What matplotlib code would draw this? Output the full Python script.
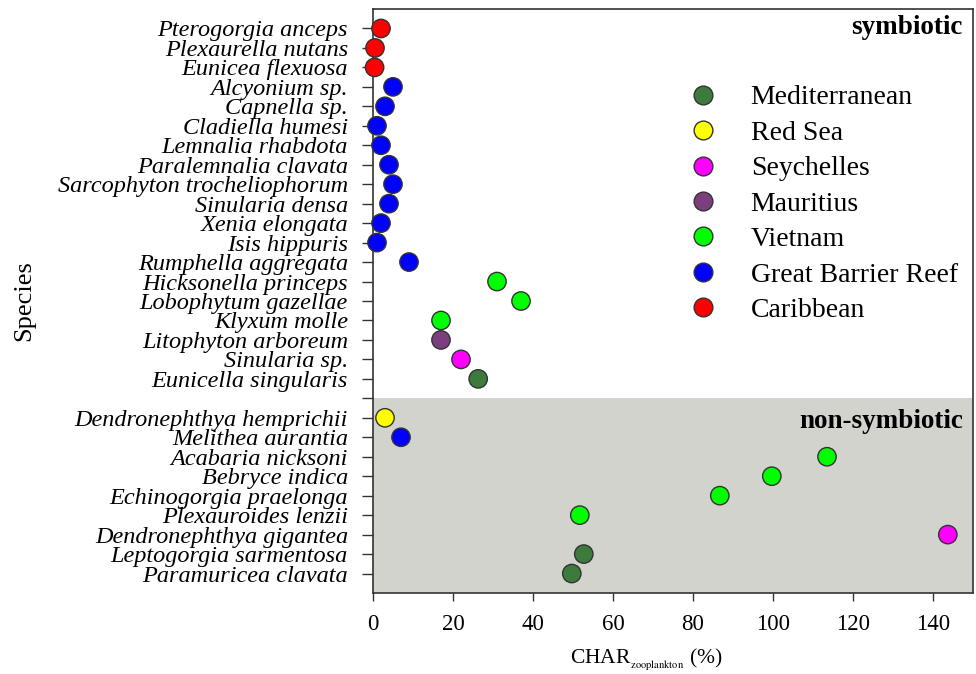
import matplotlib
matplotlib.use("Agg")
import matplotlib.pyplot as plt
from matplotlib.lines import Line2D

plt.rcParams['font.family'] = ['Liberation Serif', 'DejaVu Serif']
plt.rcParams['mathtext.fontset'] = 'stix'

# Daten (von oben nach unten)
symb_species = ['Pterogorgia anceps', 'Plexaurella nutans', 'Eunicea flexuosa',
                'Alcyonium sp.', 'Capnella sp.', 'Cladiella humesi',
                'Lemnalia rhabdota', 'Paralemnalia clavata',
                'Sarcophyton trocheliophorum', 'Sinularia densa',
                'Xenia elongata', 'Isis hippuris', 'Rumphella aggregata',
                'Hicksonella princeps', 'Lobophytum gazellae', 'Klyxum molle',
                'Litophyton arboreum', 'Sinularia sp.', 'Eunicella singularis']
symb_values = [2, 0.5, 0.4, 5, 3, 1, 2, 4, 5, 4, 2, 1, 9, 31, 37, 17, 17, 22, 26.3]
symb_region = ['Caribbean', 'Caribbean', 'Caribbean',
               'Great Barrier Reef', 'Great Barrier Reef', 'Great Barrier Reef',
               'Great Barrier Reef', 'Great Barrier Reef', 'Great Barrier Reef',
               'Great Barrier Reef', 'Great Barrier Reef', 'Great Barrier Reef',
               'Great Barrier Reef', 'Vietnam', 'Vietnam', 'Vietnam',
               'Mauritius', 'Seychelles', 'Mediterranean']

nonsymb_species = ['Dendronephthya hemprichii', 'Melithea aurantia',
                   'Acabaria nicksoni', 'Bebryce indica',
                   'Echinogorgia praelonga', 'Plexauroides lenzii',
                   'Dendronephthya gigantea', 'Leptogorgia sarmentosa',
                   'Paramuricea clavata']
nonsymb_values = [3, 7, 113.5, 99.7, 86.7, 51.7, 143.7, 52.7, 49.7]
nonsymb_region = ['Red Sea', 'Great Barrier Reef', 'Vietnam', 'Vietnam',
                  'Vietnam', 'Vietnam', 'Seychelles', 'Mediterranean',
                  'Mediterranean']

regions = ['Mediterranean', 'Red Sea', 'Seychelles', 'Mauritius', 'Vietnam',
           'Great Barrier Reef', 'Caribbean']
region_colors = ['#3d7b3d', '#ffff00', '#ff00ff', '#7b3f7e', '#00ff00',
                 '#0000ff', '#ff0000']
color_of = dict(zip(regions, region_colors))

# Positionen: unten 1, Lücke zwischen den Gruppen
n_non = len(nonsymb_species)
n_sym = len(symb_species)
gap_pos = n_non + 1
non_pos = list(range(n_non, 0, -1))
sym_pos = list(range(gap_pos + n_sym, gap_pos, -1))

fig = plt.figure(figsize=(9.76, 6.74), dpi=100)
ax = fig.add_axes([373 / 976, 1 - 593 / 674, 600 / 976, 584 / 674])

# grauer Bereich = nicht-symbiotisch
ax.axhspan(0, gap_pos, color='#d3d3ce', zorder=0, lw=0)

ax.scatter(symb_values, sym_pos, s=175, c=[color_of[r] for r in symb_region],
           edgecolors='#333333', linewidths=1, zorder=3, clip_on=False)
ax.scatter(nonsymb_values, non_pos, s=175, c=[color_of[r] for r in nonsymb_region],
           edgecolors='#333333', linewidths=1, zorder=3, clip_on=False)

ax.set_xlim(0, 150)
ax.set_ylim(0, 30)
ax.set_xticks([0, 20, 40, 60, 80, 100, 120, 140])
ax.set_yticks(sym_pos + [gap_pos] + non_pos)
ax.set_yticklabels(symb_species + [''] + nonsymb_species, fontstyle='italic',
                   fontsize=17.5)
ax.tick_params(axis='y', length=8, width=1, color='#333333', pad=10,
               direction='out')
ax.tick_params(axis='x', length=6, width=1, color='#333333', pad=9,
               labelsize=16.5, direction='out')
for sp in ax.spines.values():
    sp.set_color('#333333')
    sp.set_linewidth(1.2)

ax.set_ylabel('Species', fontsize=19)
ax.yaxis.set_label_coords(-0.563, 0.5)
ax.set_xlabel(r'CHAR$_{_{\mathrm{zooplankton}}}$ (%)', fontsize=15.5, labelpad=8)
ax.xaxis.label.set_x(0.455)

ax.text(0.983, 0.99, 'symbiotic', transform=ax.transAxes, ha='right',
        va='top', fontsize=19.5, fontweight='bold')
ax.text(0.983, 0.315, 'non-symbiotic', transform=ax.transAxes, ha='right',
        va='top', fontsize=19.5, fontweight='bold')

handles = [Line2D([], [], ls='', marker='o', markersize=13.5,
                  markerfacecolor=c, markeredgecolor='#333333',
                  markeredgewidth=1) for c in region_colors]
ax.legend(handles, regions, loc='upper left', bbox_to_anchor=(0.485, 0.889),
          frameon=False, fontsize=20, handletextpad=0.72, labelspacing=0.36,
          borderaxespad=0)

fig.savefig('out.png', dpi=100)
